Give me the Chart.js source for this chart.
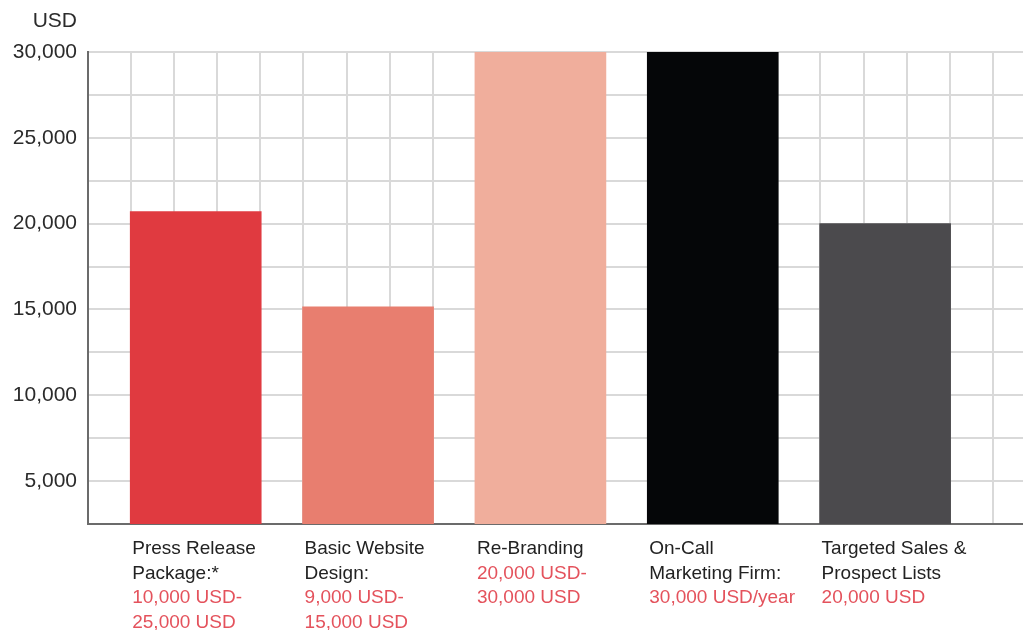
<!DOCTYPE html>
<html>
<head>
<meta charset="utf-8">
<script src="https://cdn.jsdelivr.net/npm/chart.js@4/dist/chart.umd.min.js"></script>
<style>
  html, body { margin: 0; padding: 0; background: #ffffff; }
  #wrap { width: 1023px; height: 630px; }
</style>
</head>
<body>
<div id="wrap"><canvas id="c" width="1023" height="630"></canvas></div>
<script>
// ---- data ----
const categories = [
  ["Press Release", "Package:*"],
  ["Basic Website", "Design:"],
  ["Re-Branding"],
  ["On-Call", "Marketing Firm:"],
  ["Targeted Sales &", "Prospect Lists"]
];
const priceLabels = [
  ["10,000 USD-", "25,000 USD"],
  ["9,000 USD-", "15,000 USD"],
  ["20,000 USD-", "30,000 USD"],
  ["30,000 USD/year"],
  ["20,000 USD"]
];
const values = [20700, 15150, 30000, 30000, 20000];
const barColors = ["#e03a40", "#e87e6f", "#f0ae9c", "#050608", "#4b4a4d"];
const yLabelledTicks = [5000, 10000, 15000, 20000, 25000, 30000];
const unitLabel = "USD";

const FONT = '"Liberation Sans", Arial, Helvetica, sans-serif';

const labelPlugin = {
  id: 'catLabels',
  afterDraw(chart) {
    const ctx = chart.ctx;
    const xs = chart.scales.x, ys = chart.scales.y;
    const meta = chart.getDatasetMeta(0);
    ctx.save();
    ctx.font = '19px ' + FONT;
    ctx.textAlign = 'left';
    ctx.textBaseline = 'alphabetic';
    meta.data.forEach((bar, i) => {
      const left = bar.x - bar.width / 2 + 2;
      let lineY = ys.bottom + 30;
      categories[i].forEach(t => {
        ctx.fillStyle = '#222222';
        ctx.fillText(t, left, lineY);
        lineY += 24.7;
      });
      priceLabels[i].forEach(t => {
        ctx.fillStyle = '#e4525c';
        ctx.fillText(t, left, lineY);
        lineY += 24.7;
      });
    });
    ctx.font = '21px ' + FONT;
    ctx.textAlign = 'right';
    ctx.fillStyle = '#2b2b2b';
    ctx.fillText(unitLabel, xs.left - 11, 27);
    ctx.restore();
  }
};

new Chart(document.getElementById('c'), {
  type: 'bar',
  data: {
    datasets: [{
      data: values.map((v, i) => ({ x: i, y: v })),
      backgroundColor: barColors,
      borderWidth: 0,
      barThickness: 131
    }]
  },
  options: {
    responsive: false,
    animation: false,
    layout: { padding: { top: 52, right: 0, left: 0, bottom: 0 } },
    plugins: { legend: { display: false }, tooltip: { enabled: false }, title: { display: false } },
    scales: {
      x: {
        type: 'linear',
        offset: false,
        min: -0.625,
        max: 4.8,
        afterBuildTicks: s => {
          const t = [];
          for (let v = s.min; v <= s.max + 1e-9; v += 0.25) t.push({ value: v });
          s.ticks = t;
        },
        ticks: { display: false },
        grid: { color: '#d9d9d9', lineWidth: 2, drawTicks: false, offset: false },
        border: { color: '#6b6b6b', width: 2 },
        afterFit: s => { s.height = 106; }
      },
      y: {
        min: 2500,
        max: 30000,
        ticks: {
          stepSize: 2500,
          autoSkip: false,
          padding: 11,
          color: '#2b2b2b',
          font: { family: FONT, size: 21 },
          callback: v => yLabelledTicks.includes(v) ? v.toLocaleString('en-US') : ''
        },
        grid: { color: '#d9d9d9', lineWidth: 2, drawTicks: false },
        border: { color: '#6b6b6b', width: 2 },
        afterFit: s => { s.width = 88; }
      }
    }
  },
  plugins: [labelPlugin]
});
</script>
</body>
</html>
